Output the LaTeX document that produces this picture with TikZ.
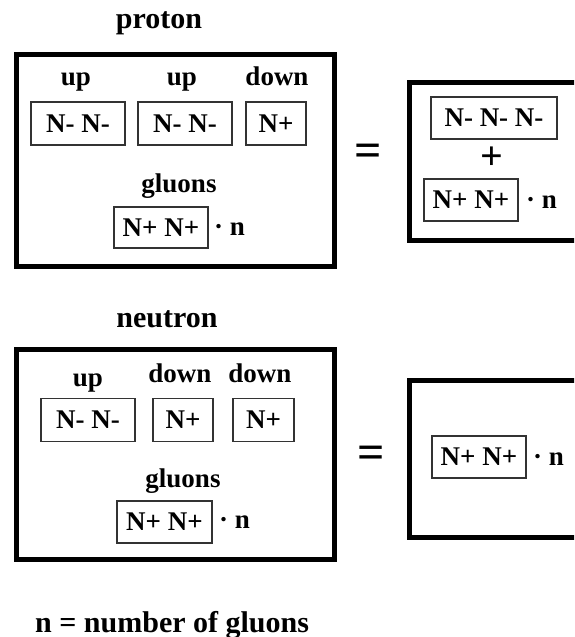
\documentclass[tikz,border=0pt]{standalone}
\usepackage{fontspec}
\setmainfont{Liberation Serif}
\begin{document}
\begin{tikzpicture}[x=1pt,y=-1pt,
  outer/.style={draw=black, line width=5pt, inner sep=0pt, anchor=north west},
  qbox/.style={draw=black!80, line width=1.3pt, inner sep=0pt, minimum height=43pt, font=\fontsize{27}{30}\selectfont\bfseries},
  lbl/.style={font=\fontsize{27}{30}\selectfont\bfseries, inner sep=0pt, anchor=base},
  ttl/.style={font=\fontsize{30}{34}\selectfont\bfseries, inner sep=0pt, anchor=base},
  tail/.style={font=\fontsize{27}{30}\selectfont\bfseries, inner sep=0pt, anchor=base west},
  eqs/.style={font=\fontsize{48}{50}\selectfont\bfseries, inner sep=0pt},
  plus/.style={font=\fontsize{40}{44}\selectfont\bfseries, inner sep=0pt}]
\clip (0,0) rectangle (574,637);
% ---------- proton ----------
\node[ttl] (ptitle) at (159,28) {proton};
\node[outer, minimum width=318pt, minimum height=212pt] (pbox) at (14,52) {};
\node[lbl] (pl1) at (76,85) {up};
\node[lbl] (pl2) at (182,85) {up};
\node[lbl] (pl3) at (277,85) {down};
\node[qbox, minimum width=94pt] (pq1) at (78,123.5) {N- N-};
\node[qbox, minimum width=94pt] (pq2) at (185,123.5) {N- N-};
\node[qbox, minimum width=60pt] (pq3) at (276,123.5) {N+};
\node[lbl] (pgl) at (179,192) {gluons};
\node[qbox, minimum width=94pt, minimum height=41pt] (pg) at (161,227.5) {N+ N+};
\node[tail] (pgn) at (214,235) {· n};
\node[eqs] (peq) at (368,155) {=};
\node[outer, minimum width=240pt, minimum height=158pt] (prbox) at (407,80) {};
\node[qbox, minimum width=126pt, minimum height=42pt] (prq) at (494,118) {N- N- N-};
\node[plus] (prplus) at (492,158) {+};
\node[qbox, minimum width=94pt, minimum height=42pt] (prg) at (471,200) {N+ N+};
\node[tail] (prgn) at (526,208) {· n};
% ---------- neutron ----------
\node[ttl] (ntitle) at (167,327) {neutron};
\node[outer, minimum width=318pt, minimum height=210pt] (nbox) at (14,347) {};
\node[lbl] (nl1) at (88,386) {up};
\node[lbl] (nl2) at (180,382) {down};
\node[lbl] (nl3) at (260,382) {down};
\node[qbox, minimum width=94pt] (nq1) at (88,420) {N- N-};
\node[qbox, minimum width=60pt] (nq2) at (183,420) {N+};
\node[qbox, minimum width=61pt] (nq3) at (263.5,420) {N+};
\node[lbl] (ngl) at (183,487) {gluons};
\node[qbox, minimum width=95pt, minimum height=42pt] (ng) at (164.5,522) {N+ N+};
\node[tail] (ngn) at (219,528) {· n};
\node[eqs] (neq) at (371,457) {=};
\node[outer, minimum width=240pt, minimum height=157pt] (nrbox) at (407,378) {};
\node[qbox, minimum width=94pt, minimum height=42pt] (nrg) at (479,457) {N+ N+};
\node[tail] (nrgn) at (533,465) {· n};
% ---------- legend ----------
\node[ttl, anchor=base west] (legend) at (35,632) {n = number of gluons};
\end{tikzpicture}
\end{document}
